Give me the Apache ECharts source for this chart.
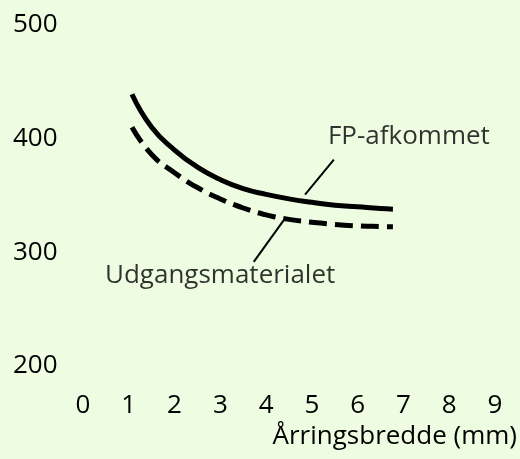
<!DOCTYPE html>
<html>
<head>
    <meta charset="utf-8">
    <title>Årringsbredde</title>
    <script src="https://cdn.jsdelivr.net/npm/echarts@6/dist/echarts.min.js"></script>
    <style>
        html, body { margin: 0; padding: 0; background: #eefde2; }
        #main { width: 520px; height: 459px; }
    </style>
</head>
<body>
    <div id="main"></div>
    <script type="text/javascript">
        // data: [årringsbredde (mm), value]
        var fpAfkommet = [[1.07, 439], [1.5, 410], [2, 390], [2.5, 375], [3, 364], [3.5, 356], [4, 351], [4.5, 347], [5, 344], [5.5, 341.5], [6, 340], [6.5, 338.5], [6.77, 338]];
        var udgangsmaterialet = [[1.07, 410], [1.5, 386], [2, 370], [2.5, 357], [3, 347], [3.5, 339], [4, 333], [4.5, 329], [5, 326.5], [5.5, 324.5], [6, 323.3], [6.5, 322.7], [6.77, 322.5]];
        var xTicks = [0, 1, 2, 3, 4, 5, 6, 7, 8, 9];
        var yTicks = [200, 300, 400, 500];

        // leader lines and label anchors (data units)
        var fpLeader = [[4.85, 350.7], [5.48, 381.5]];
        var udgLeader = [[3.73, 291.6], [4.39, 328.6]];
        var labelAnchors = [
            { name: 'FP-afkommet', value: [5.35, 401.8] },
            { name: 'Udgangsmaterialet', value: [0.48, 279.3] }
        ];

        var font = '"Open Sans", Lato, sans-serif';
        var myChart = echarts.init(document.getElementById('main'));

        var option = {
            backgroundColor: '#eefde2',
            animation: false,
            grid: { left: 83, right: 25, top: 25, bottom: 93 },
            xAxis: {
                type: 'value',
                min: xTicks[0],
                max: xTicks[xTicks.length - 1],
                interval: 1,
                axisLine: { show: false },
                axisTick: { show: false },
                splitLine: { show: false },
                axisLabel: { color: '#000', fontSize: 26, fontWeight: 500, fontFamily: font, margin: 27 }
            },
            yAxis: {
                type: 'value',
                min: yTicks[0],
                max: yTicks[yTicks.length - 1],
                interval: 100,
                axisLine: { show: false },
                axisTick: { show: false },
                splitLine: { show: false },
                axisLabel: { color: '#000', fontSize: 26, fontWeight: 500, fontFamily: font, align: 'left', margin: 70 }
            },
            graphic: [{
                type: 'text',
                right: 3,
                top: 424,
                style: { text: 'Årringsbredde (mm)', fill: '#000', font: '500 26px ' + font }
            }],
            series: [
                {
                    name: 'FP-afkommet',
                    type: 'line',
                    data: fpAfkommet,
                    smooth: true,
                    showSymbol: false,
                    lineStyle: { color: '#000', width: 5, cap: 'butt' }
                },
                {
                    name: 'Udgangsmaterialet',
                    type: 'line',
                    data: udgangsmaterialet,
                    smooth: true,
                    showSymbol: false,
                    lineStyle: { color: '#000', width: 5, type: [18, 8], cap: 'butt' }
                },
                {
                    type: 'line',
                    data: fpLeader,
                    showSymbol: false,
                    lineStyle: { color: '#000', width: 2 }
                },
                {
                    type: 'line',
                    data: udgLeader,
                    showSymbol: false,
                    lineStyle: { color: '#000', width: 2 }
                },
                {
                    type: 'scatter',
                    data: labelAnchors,
                    symbolSize: 0,
                    label: {
                        show: true,
                        position: 'right',
                        distance: 0,
                        formatter: '{b}',
                        color: '#000',
                        fontSize: 26,
                        fontWeight: 500,
                        fontFamily: font
                    }
                }
            ]
        };
        myChart.setOption(option);
    </script>
</body>
</html>
